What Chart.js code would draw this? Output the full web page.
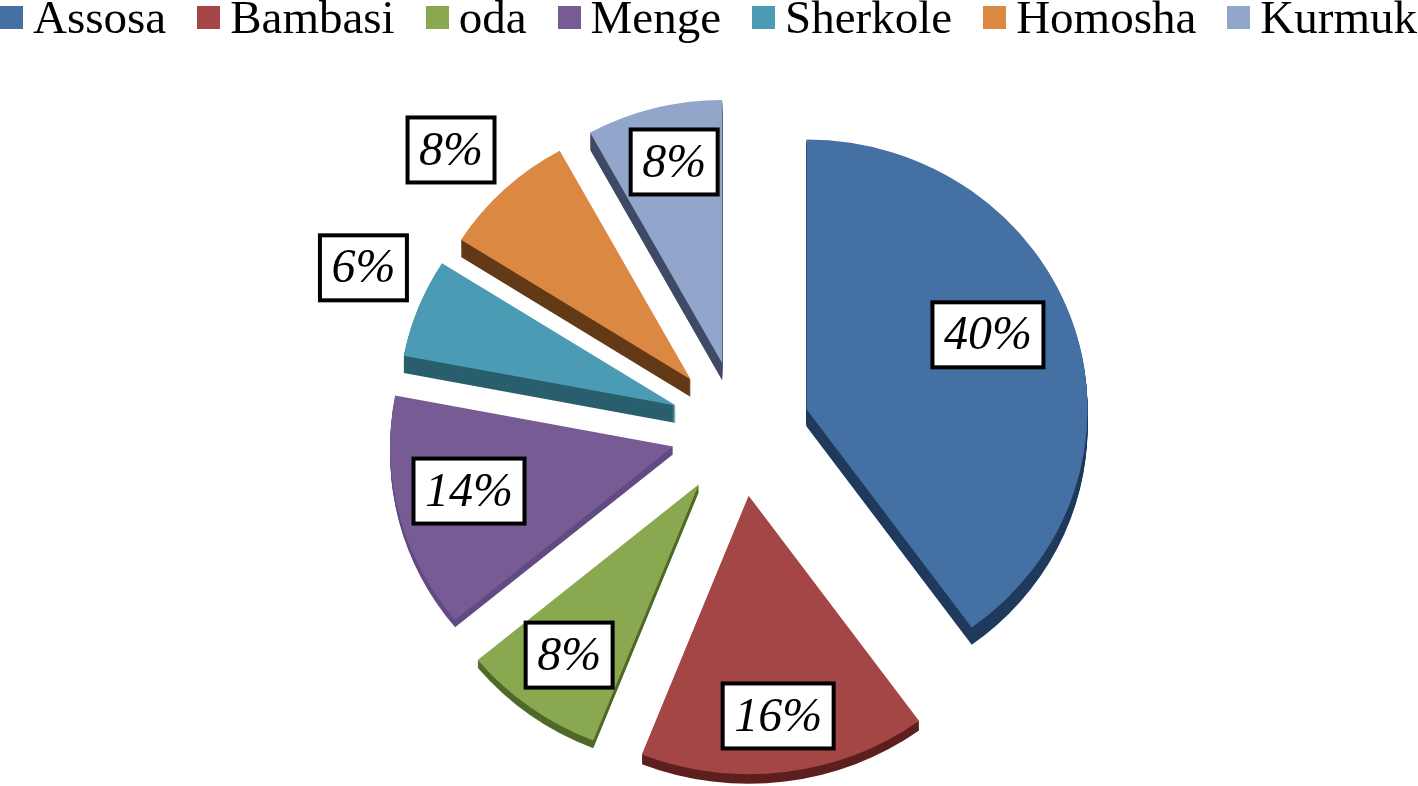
<!DOCTYPE html>
<html>
<head>
<meta charset="utf-8">
<title>Share by woreda</title>
<script src="https://cdn.jsdelivr.net/npm/chart.js@4/dist/chart.umd.min.js"></script>
<style>
  html, body { margin: 0; background: #fff; overflow: hidden; }
  #wrap { position: relative; width: 1418px; height: 786px; }
  #legend {
    position: absolute; left: 0; top: -10px; display: flex; gap: 31px;
    font: 47px 'Liberation Serif', serif; color: #000; white-space: nowrap;
  }
  #legend .item { display: flex; align-items: flex-start; }
  #legend .box { width: 23px; height: 23px; margin: 16px 10px 0 0; }
</style>
</head>
<body>
<div id="wrap">
  <canvas id="pie" width="1418" height="786"></canvas>
  <div id="legend"></div>
</div>
<script>
const labels = ['Assosa', 'Bambasi', 'oda', 'Menge', 'Sherkole', 'Homosha', 'Kurmuk'];
const values = [40, 16, 8, 14, 6, 8, 8];
const topColors = ['#4470a3', '#a54646', '#8aa84f', '#775b94', '#4a9bb3', '#db8843', '#92a6cb'];
const sideColors = ['#1f3a5c', '#5e1f1f', '#4f6a28', '#634a82', '#2a5f6e', '#633a17', '#3f4a66'];
const explode = [70, 69, 70, 69, 69, 72, 72];
const sliceRadius = [281, 290, 287, 283, 277, 272, 274]; // perspective: front slices look bigger
const sideDepth = [18, 10, 8, 8, 18, 18, 18];
// label box centres, polar from the pie centre
const labelDist = [265.6, 288.5, 282.6, 277.8, 410, 402.4, 276];
const labelAngle = [69, 172.4, 217.2, 257.3, 293.3, 314.1, 346.2];

const squash = 0.96; // the 3D pie is tilted a little

// Legend
document.getElementById('legend').innerHTML = labels.map((name, i) =>
  `<div class="item"><span class="box" style="background:${topColors[i]}"></span>${name}</div>`
).join('');

let wallAngles = [];

const pie3d = {
  id: 'pie3d',
  afterDatasetsUpdate(chart) {
    // Arc element grows and narrows with its offset when drawn, take that back out
    wallAngles = chart.getDatasetMeta(0).data.map((arc, i) => {
      const angles = { start: arc.startAngle, end: arc.endAngle };
      const grow = explode[i] * (1 - Math.sin(Math.min(Math.PI, arc.circumference)));
      const narrow = grow / (2 * Math.PI * sliceRadius[i]);
      arc.outerRadius = sliceRadius[i] - grow;
      arc.startAngle -= narrow;
      arc.endAngle += narrow;
      return angles;
    });
  },
  beforeDatasetsDraw(chart) {
    const ctx = chart.ctx;
    const arcs = chart.getDatasetMeta(0).data;
    ctx.save();
    ctx.translate(arcs[0].x, arcs[0].y);
    ctx.scale(1, squash);
    ctx.translate(-arcs[0].x, -arcs[0].y);

    // Side walls first, the library's arcs go on top
    arcs.forEach((arc, i) => {
      const { start, end } = wallAngles[i];
      const mid = (start + end) / 2;
      const cx = arc.x + Math.cos(mid) * explode[i];
      const cy = arc.y + Math.sin(mid) * explode[i];
      ctx.fillStyle = sideColors[i];
      for (let d = sideDepth[i]; d > 0; d--) {
        ctx.beginPath();
        ctx.moveTo(cx, cy + d);
        ctx.arc(cx, cy + d, sliceRadius[i], start, end);
        ctx.closePath();
        ctx.fill();
      }
    });
  },
  afterDatasetsDraw(chart) {
    const ctx = chart.ctx;
    ctx.restore();

    // Boxed percentage labels
    const arcs = chart.getDatasetMeta(0).data;
    ctx.save();
    ctx.font = 'italic 48px "Liberation Serif", serif';
    ctx.textAlign = 'center';
    ctx.textBaseline = 'middle';
    values.forEach((v, i) => {
      const a = labelAngle[i] * Math.PI / 180;
      const x = arcs[0].x + Math.sin(a) * labelDist[i];
      const y = arcs[0].y - Math.cos(a) * labelDist[i];
      const text = v + '%';
      const w = ctx.measureText(text).width + 23;
      const h = 65;
      ctx.fillStyle = '#fff';
      ctx.strokeStyle = '#000';
      ctx.lineWidth = 4;
      ctx.fillRect(x - w / 2, y - h / 2, w, h);
      ctx.strokeRect(x - w / 2, y - h / 2, w, h);
      ctx.fillStyle = '#000';
      ctx.fillText(text, x, y + 2);
    });
    ctx.restore();
  }
};

new Chart(document.getElementById('pie'), {
  type: 'pie',
  data: {
    labels: labels,
    datasets: [{
      data: values,
      backgroundColor: topColors,
      borderWidth: 0,
      offset: explode.map(e => e * 4) // the arc only moves by offset / 4
    }]
  },
  options: {
    responsive: false,
    animation: false,
    radius: 290,
    layout: { padding: { left: 62, top: 74 } },
    plugins: {
      legend: { display: false },
      tooltip: { enabled: false }
    }
  },
  plugins: [pie3d]
});
</script>
</body>
</html>
